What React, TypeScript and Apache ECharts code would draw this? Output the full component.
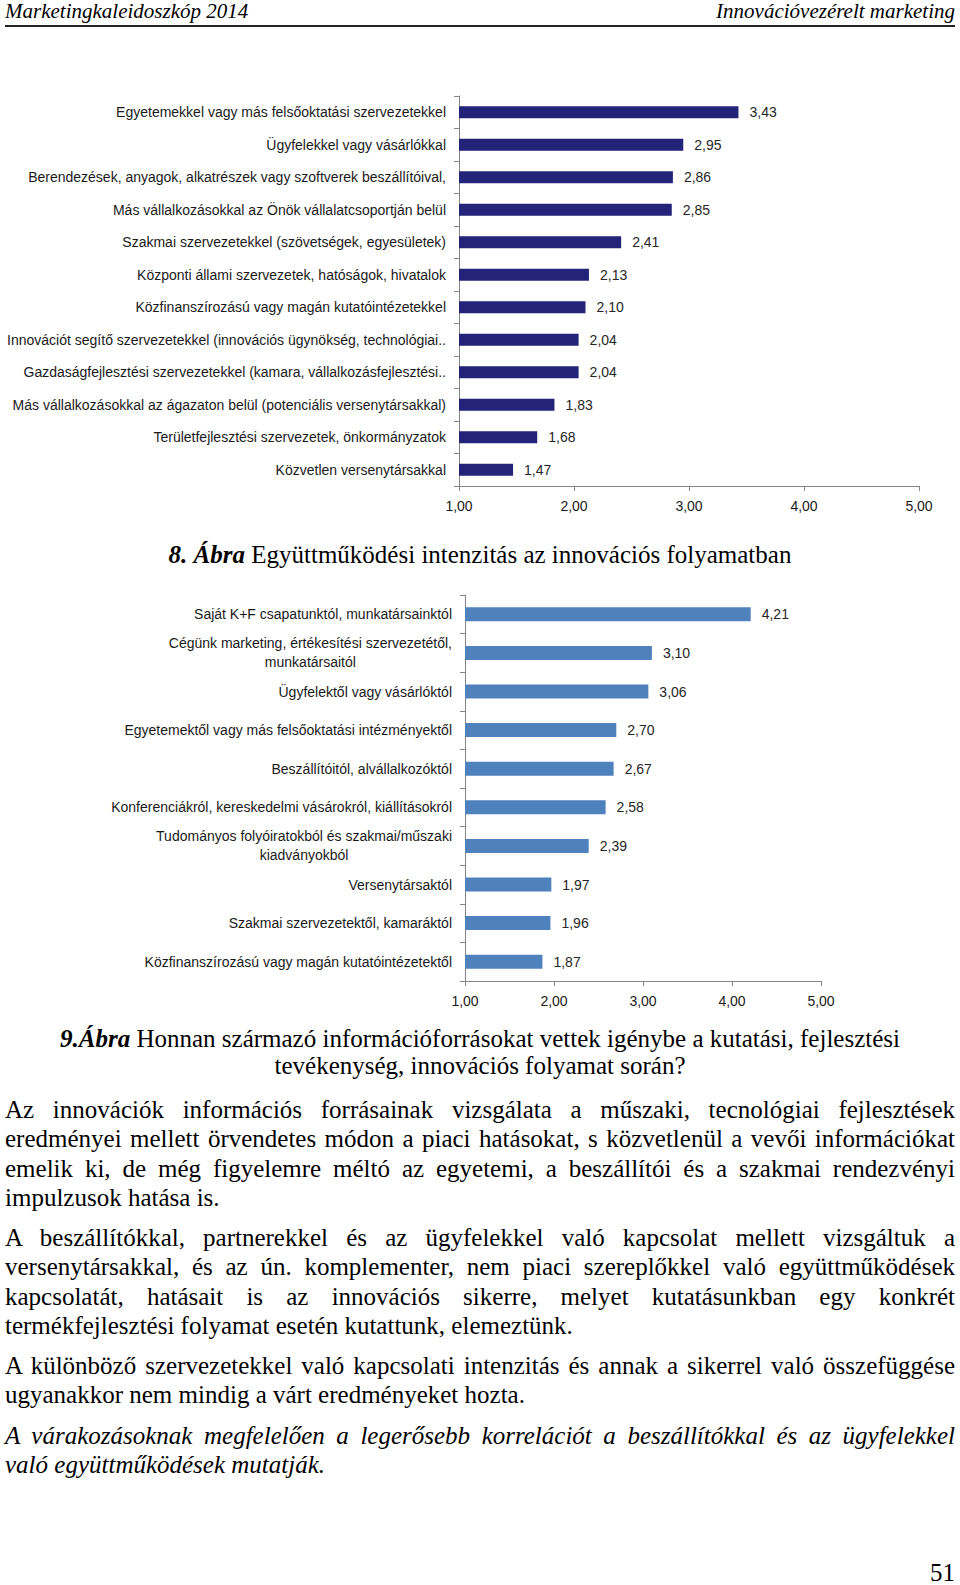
import React, { useEffect, useRef } from "react";
import * as echarts from "echarts";

// ---------- chart data ----------
const cats1 = [
  "Egyetemekkel vagy más felsőoktatási szervezetekkel",
  "Ügyfelekkel vagy vásárlókkal",
  "Berendezések, anyagok, alkatrészek vagy szoftverek beszállítóival,",
  "Más vállalkozásokkal az Önök vállalatcsoportján belül",
  "Szakmai szervezetekkel (szövetségek, egyesületek)",
  "Központi állami szervezetek, hatóságok, hivatalok",
  "Közfinanszírozású vagy magán kutatóintézetekkel",
  "Innovációt segítő szervezetekkel (innovációs ügynökség, technológiai..",
  "Gazdaságfejlesztési szervezetekkel (kamara, vállalkozásfejlesztési..",
  "Más vállalkozásokkal az ágazaton belül (potenciális versenytársakkal)",
  "Területfejlesztési szervezetek, önkormányzatok",
  "Közvetlen versenytársakkal",
];
const vals1 = [3.43, 2.95, 2.86, 2.85, 2.41, 2.13, 2.1, 2.04, 2.04, 1.83, 1.68, 1.47];

const cats2 = [
  "Saját K+F csapatunktól, munkatársainktól",
  "Cégünk marketing, értékesítési szervezetétől,\nmunkatársaitól",
  "Ügyfelektől vagy vásárlóktól",
  "Egyetemektől vagy más felsőoktatási intézményektől",
  "Beszállítóitól, alvállalkozóktól",
  "Konferenciákról, kereskedelmi vásárokról, kiállításokról",
  "Tudományos folyóiratokból és szakmai/műszaki\nkiadványokból",
  "Versenytársaktól",
  "Szakmai szervezetektől, kamaráktól",
  "Közfinanszírozású vagy magán kutatóintézetektől",
];
const vals2 = [4.21, 3.1, 3.06, 2.7, 2.67, 2.58, 2.39, 1.97, 1.96, 1.87];

const axisMin = 1;
const axisMax = 5;
const axisStep = 1;

// ---------- page text ----------
const headerLeft = "Marketingkaleidoszkóp 2014";
const headerRight = "Innovációvezérelt marketing";
const caption8Bold = "8. Ábra";
const caption8Rest = " Együttműködési intenzitás az innovációs folyamatban";
const caption9Bold = "9.Ábra";
const caption9Line1 = " Honnan származó információforrásokat vettek igénybe a kutatási, fejlesztési";
const caption9Line2 = "tevékenység, innovációs folyamat során?";
const para1 = [
  "Az innovációk információs forrásainak vizsgálata a műszaki, tecnológiai fejlesztések",
  "eredményei mellett örvendetes módon a piaci hatásokat, s közvetlenül a vevői információkat",
  "emelik ki, de még figyelemre méltó az egyetemi, a beszállítói és a szakmai rendezvényi",
  "impulzusok hatása is.",
];
const para2 = [
  "A beszállítókkal, partnerekkel és az ügyfelekkel való kapcsolat mellett vizsgáltuk a",
  "versenytársakkal, és az ún. komplementer, nem piaci szereplőkkel való együttműködések",
  "kapcsolatát, hatásait is az innovációs sikerre, melyet kutatásunkban egy konkrét",
  "termékfejlesztési folyamat esetén kutattunk, elemeztünk.",
];
const para3 = [
  "A különböző szervezetekkel való kapcsolati intenzitás és annak a sikerrel való összefüggése",
  "ugyanakkor nem mindig a várt eredményeket hozta.",
];
const para4 = [
  "A várakozásoknak megfelelően a legerősebb korrelációt a beszállítókkal és az ügyfelekkel",
  "való együttműködések mutatják.",
];
const pageNumber = "51";

const fmt = (v: number) => v.toFixed(2).replace(".", ",");
const SANS = "'Liberation Sans', Arial, sans-serif";
const SERIF = "'Liberation Serif', 'Times New Roman', serif";

function TextLine(props: {
  y: number;
  text: React.ReactNode;
  justify?: boolean;
  italic?: boolean;
  align?: "left" | "center" | "right";
  size?: number;
}) {
  const size = props.size ?? 25;
  const h = 30;
  const align = props.justify ? "justify" : props.align ?? "left";
  return (
    <div
      style={{
        position: "absolute",
        left: 5,
        width: 950,
        top: props.y - h / 2,
        height: h,
        lineHeight: h + "px",
        fontSize: size,
        fontFamily: SERIF,
        fontStyle: props.italic ? "italic" : "normal",
        color: "#000",
        textAlign: align as any,
        textAlignLast: align as any,
      }}
    >
      {props.text}
    </div>
  );
}

export default function App() {
  const ref = useRef<HTMLDivElement>(null);

  useEffect(() => {
    const chart = echarts.init(ref.current!, null, { renderer: "svg" });
    const axisColor = "#868686";
    const labelColor = "#1a1a1a";

    const yAxis = (data: string[], gridIndex: number) => ({
      type: "category",
      gridIndex,
      data,
      inverse: true,
      axisLine: { show: true, onZero: false, lineStyle: { color: axisColor, width: 1 } },
      axisTick: { show: true, length: 5, lineStyle: { color: axisColor } },
      axisLabel: {
        margin: 13,
        interval: 0,
        fontSize: 14,
        fontFamily: SANS,
        color: labelColor,
        formatter: (v: string) =>
          v
            .split("\n")
            .map((s) => `{c|${s}}`)
            .join("\n"),
        rich: {
          c: { align: "center", fontSize: 14, fontFamily: SANS, color: labelColor, lineHeight: 19 },
        },
      },
      splitLine: { show: false },
    });

    const xAxis = (gridIndex: number) => ({
      type: "value",
      gridIndex,
      min: axisMin,
      max: axisMax,
      interval: axisStep,
      splitLine: { show: false },
      axisLine: { show: true, onZero: false, lineStyle: { color: axisColor, width: 1 } },
      axisTick: { show: true, length: 5, lineStyle: { color: axisColor } },
      axisLabel: {
        formatter: (v: number) => fmt(v),
        fontSize: 14,
        fontFamily: SANS,
        color: labelColor,
        margin: 13,
        showMinLabel: true,
        showMaxLabel: true,
      },
    });

    const series = (vals: number[], idx: number, color: string, barWidth: number) => ({
      type: "bar",
      xAxisIndex: idx,
      yAxisIndex: idx,
      data: vals,
      barWidth,
      itemStyle: { color },
      label: {
        show: true,
        position: "right",
        distance: 11,
        fontSize: 14,
        fontFamily: SANS,
        color: "#262626",
        formatter: (p: any) => fmt(p.value),
      },
    });

    chart.setOption({
      animation: false,
      grid: [
        { left: 459, top: 96, width: 460, height: 390, containLabel: false },
        { left: 465, top: 595, width: 356, height: 386, containLabel: false },
      ],
      xAxis: [xAxis(0), xAxis(1)],
      yAxis: [yAxis(cats1, 0), yAxis(cats2, 1)],
      series: [series(vals1, 0, "#232379", 12), series(vals2, 1, "#4F81BD", 14)],
    });

    return () => chart.dispose();
  }, []);

  return (
    <div
      style={{
        position: "absolute",
        left: 0,
        top: 0,
        width: 960,
        height: 1585,
        background: "#fff",
        overflow: "hidden",
      }}
    >
      <div ref={ref} style={{ position: "absolute", left: 0, top: 0, width: 960, height: 1015 }} />

      {/* header */}
      <div
        style={{
          position: "absolute",
          left: 5,
          top: 0,
          width: 950,
          height: 22,
          lineHeight: "22px",
          fontFamily: SERIF,
          fontStyle: "italic",
          fontSize: 21,
          color: "#000",
          display: "flex",
          justifyContent: "space-between",
        }}
      >
        <span>{headerLeft}</span>
        <span>{headerRight}</span>
      </div>
      <div style={{ position: "absolute", left: 5, top: 25, width: 950, height: 2, background: "#222" }} />

      {/* caption 8 */}
      <TextLine
        y={555}
        align="center"
        text={
          <>
            <b>
              <i>{caption8Bold}</i>
            </b>
            {caption8Rest}
          </>
        }
      />

      {/* caption 9 */}
      <TextLine
        y={1039}
        align="center"
        text={
          <>
            <b>
              <i>{caption9Bold}</i>
            </b>
            {caption9Line1}
          </>
        }
      />
      <TextLine y={1066} align="center" text={caption9Line2} />

      {para1.map((t, i) => (
        <TextLine key={"p1" + i} y={1110 + i * 29.3} text={t} justify={i < para1.length - 1} />
      ))}
      {para2.map((t, i) => (
        <TextLine key={"p2" + i} y={1238 + i * 29.3} text={t} justify={i < para2.length - 1} />
      ))}
      {para3.map((t, i) => (
        <TextLine key={"p3" + i} y={1366 + i * 29.3} text={t} justify={i < para3.length - 1} />
      ))}
      {para4.map((t, i) => (
        <TextLine key={"p4" + i} y={1436 + i * 29.3} text={t} italic justify={i < para4.length - 1} />
      ))}

      <TextLine y={1573} align="right" text={pageNumber} />
    </div>
  );
}
